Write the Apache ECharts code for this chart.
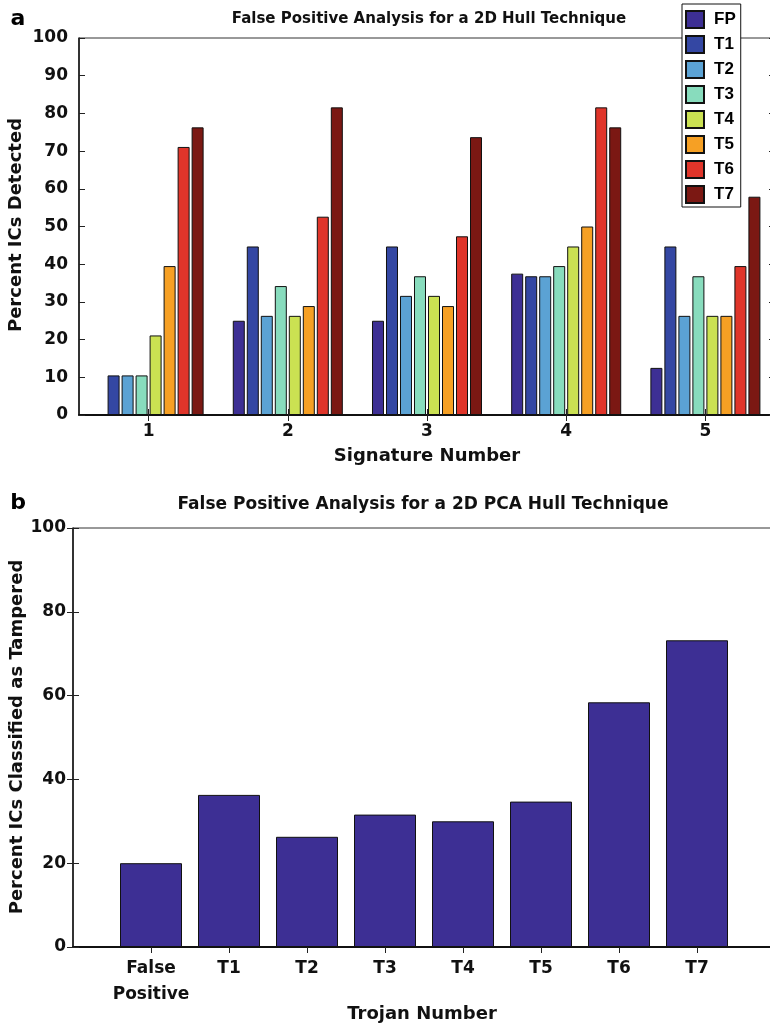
<!DOCTYPE html>
<html>
<head>
<meta charset="utf-8">
<script src="https://cdn.jsdelivr.net/npm/echarts@6/dist/echarts.min.js"></script>
<style>
html,body{margin:0;padding:0;background:#fff;}
#chart{width:770px;height:1025px;}
</style>
</head>
<body>
<div id="chart"></div>
<script>
// ---- Data: panel a ----
const signatures = ['1', '2', '3', '4', '5'];
const seriesNames = ['FP', 'T1', 'T2', 'T3', 'T4', 'T5', 'T6', 'T7'];
const fpValues = [0, 25.0, 25.0, 37.5, 12.5];
const t1Values = [10.5, 44.7, 44.7, 36.8, 44.7];
const t2Values = [10.5, 26.3, 31.6, 36.8, 26.3];
const t3Values = [10.5, 34.2, 36.8, 39.5, 36.8];
const t4Values = [21.1, 26.3, 31.6, 44.7, 26.3];
const t5Values = [39.5, 28.9, 28.9, 50.0, 26.3];
const t6Values = [71.1, 52.6, 47.4, 81.6, 39.5];
const t7Values = [76.3, 81.6, 73.7, 76.3, 57.9];
const seriesColors = ['#3d2f94', '#3447a3', '#5ba2d4', '#88dcbd', '#cbe152', '#f6a024', '#e0352a', '#7b1813'];
const topYMax = 100, topYInterval = 10;

// ---- Data: panel b ----
const trojanLabels = ['False\nPositive', 'T1', 'T2', 'T3', 'T4', 'T5', 'T6', 'T7'];
const pcaValues = [20.0, 36.3, 26.3, 31.6, 30.0, 34.7, 58.4, 73.2];
const botYMax = 100, botYInterval = 20;

const FONT = '"DejaVu Sans", sans-serif';
const chart = echarts.init(document.getElementById('chart'), null, {renderer: 'canvas'});

const allTop = [fpValues, t1Values, t2Values, t3Values, t4Values, t5Values, t6Values, t7Values];
const trojanPositions = trojanLabels.map((_, i) => i + 1);

const tickLabel = {fontFamily: FONT, fontWeight: 'bold', fontSize: 17, color: '#111'};

const series = seriesNames.map((name, i) => ({
  name: name,
  type: 'bar',
  xAxisIndex: 0,
  yAxisIndex: 0,
  data: allTop[i],
  barWidth: 12,
  barGap: '16.7%',
  itemStyle: {color: seriesColors[i], borderColor: '#111', borderWidth: 1},
  emphasis: {disabled: true},
  animation: false
}));

series.push({
  name: 'PCA',
  type: 'bar',
  xAxisIndex: 2,
  yAxisIndex: 2,
  data: pcaValues.map((v, i) => [trojanPositions[i], v]),
  barWidth: 62,
  itemStyle: {color: '#3d2f94', borderColor: '#111', borderWidth: 1},
  emphasis: {disabled: true},
  animation: false
});

const option = {
  animation: false,
  backgroundColor: '#fff',
  grid: [
    {left: 79, top: 38, width: 696, height: 377, show: true, borderColor: '#333', borderWidth: 1, backgroundColor: 'transparent', outerBoundsMode: 'none', containLabel: false},
    {left: 73, top: 528, width: 702, height: 419, show: true, borderColor: '#333', borderWidth: 1, backgroundColor: 'transparent', outerBoundsMode: 'none', containLabel: false}
  ],
  legend: {
    data: seriesNames,
    orient: 'vertical',
    left: 682,
    top: 4,
    backgroundColor: '#fff',
    borderColor: '#111',
    borderWidth: 1,
    padding: [6, 5, 3, 3],
    itemWidth: 18,
    itemHeight: 17,
    itemGap: 6,
    icon: 'rect',
    selectedMode: false,
    textStyle: {fontFamily: '"Liberation Sans", Arial, sans-serif', fontWeight: 'bold', fontSize: 17, color: '#000', lineHeight: 17, padding: [0, 0, 0, 5]},
    z: 10
  },
  xAxis: [
    {
      gridIndex: 0, type: 'category', data: signatures, position: 'bottom',
      boundaryGap: true,
      axisLine: {lineStyle: {color: '#111', width: 2}},
      axisTick: {show: true, inside: true, length: 6, alignWithLabel: true, lineStyle: {color: '#222'}},
      axisLabel: Object.assign({margin: 8}, tickLabel),
      splitLine: {show: false}
    },
    {
      gridIndex: 0, type: 'category', data: signatures, position: 'top',
      boundaryGap: true,
      axisLine: {show: false},
      axisTick: {show: true, inside: true, length: 6, alignWithLabel: true, lineStyle: {color: '#222'}},
      axisLabel: {show: false},
      splitLine: {show: false}
    },
    {
      gridIndex: 1, type: 'value', min: 0, max: trojanLabels.length + 1, interval: 1, position: 'bottom',
      axisLine: {lineStyle: {color: '#111', width: 2}},
      axisTick: {show: true, inside: true, length: 6, customValues: trojanPositions, lineStyle: {color: '#222'}},
      axisLabel: Object.assign({
        margin: 9, lineHeight: 26,
        customValues: trojanPositions,
        formatter: function (v) { return (v >= 1 && v <= trojanLabels.length) ? trojanLabels[v - 1] : ''; }
      }, tickLabel),
      splitLine: {show: false}
    },
    {
      gridIndex: 1, type: 'value', min: 0, max: trojanLabels.length + 1, interval: 1, position: 'top',
      axisLine: {show: false},
      axisTick: {show: true, inside: true, length: 6, customValues: trojanPositions, lineStyle: {color: '#222'}},
      axisLabel: {show: false},
      splitLine: {show: false}
    }
  ],
  yAxis: [
    {
      gridIndex: 0, type: 'value', min: 0, max: topYMax, interval: topYInterval, position: 'left',
      axisLine: {show: true, lineStyle: {color: '#111', width: 1.5}},
      axisTick: {show: true, inside: true, length: 6, lineStyle: {color: '#222'}},
      axisLabel: Object.assign({margin: 11}, tickLabel),
      splitLine: {show: false}
    },
    {
      gridIndex: 0, type: 'value', min: 0, max: topYMax, interval: topYInterval, position: 'right',
      axisLine: {show: false},
      axisTick: {show: true, inside: true, length: 6, lineStyle: {color: '#222'}},
      axisLabel: {show: false},
      splitLine: {show: false}
    },
    {
      gridIndex: 1, type: 'value', min: 0, max: botYMax, interval: botYInterval, position: 'left',
      axisLine: {show: true, lineStyle: {color: '#111', width: 1.5}},
      axisTick: {show: true, inside: true, length: 6, lineStyle: {color: '#222'}},
      axisLabel: Object.assign({margin: 7}, tickLabel),
      splitLine: {show: false}
    },
    {
      gridIndex: 1, type: 'value', min: 0, max: botYMax, interval: botYInterval, position: 'right',
      axisLine: {show: false},
      axisTick: {show: true, inside: true, length: 6, lineStyle: {color: '#222'}},
      axisLabel: {show: false},
      splitLine: {show: false}
    }
  ],
  graphic: [
    {type: 'text', x: 18, y: 19, style: {text: 'a', font: 'bold 22px ' + FONT, fill: '#000', textAlign: 'center', textVerticalAlign: 'middle'}},
    {type: 'text', x: 429, y: 19, style: {text: 'False Positive Analysis for a 2D Hull Technique', font: 'bold 15px ' + FONT, fill: '#111', textAlign: 'center', textVerticalAlign: 'middle'}},
    {type: 'text', x: 16, y: 225, rotation: Math.PI / 2, style: {text: 'Percent ICs Detected', font: 'bold 18px ' + FONT, fill: '#111', textAlign: 'center', textVerticalAlign: 'middle'}},
    {type: 'text', x: 427, y: 456, style: {text: 'Signature Number', font: 'bold 18px ' + FONT, fill: '#111', textAlign: 'center', textVerticalAlign: 'middle'}},
    {type: 'text', x: 18, y: 503, style: {text: 'b', font: 'bold 22px ' + FONT, fill: '#000', textAlign: 'center', textVerticalAlign: 'middle'}},
    {type: 'text', x: 423, y: 505, style: {text: 'False Positive Analysis for a 2D PCA Hull Technique', font: 'bold 17px ' + FONT, fill: '#111', textAlign: 'center', textVerticalAlign: 'middle'}},
    {type: 'text', x: 17, y: 737, rotation: Math.PI / 2, style: {text: 'Percent ICs Classified as Tampered', font: 'bold 18px ' + FONT, fill: '#111', textAlign: 'center', textVerticalAlign: 'middle'}},
    {type: 'text', x: 422, y: 1014, style: {text: 'Trojan Number', font: 'bold 18px ' + FONT, fill: '#111', textAlign: 'center', textVerticalAlign: 'middle'}}
  ],
  series: series
};

chart.setOption(option);
</script>
</body>
</html>
